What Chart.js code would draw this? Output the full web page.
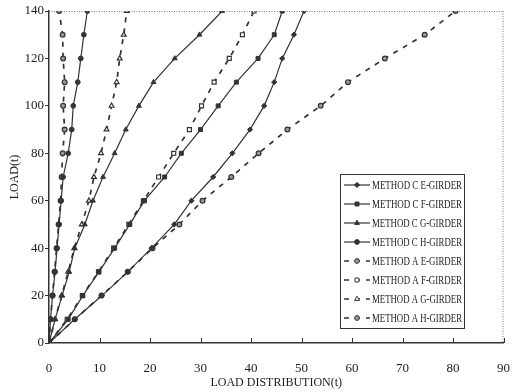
<!DOCTYPE html>
<html lang="en">
<head>
<meta charset="UTF-8">
<title>Load Distribution</title>
<script src="https://cdn.jsdelivr.net/npm/chart.js"></script>
<style>
  html, body { margin: 0; padding: 0; background: #fff; }
  #wrap { width: 520px; height: 392px; }
</style>
</head>
<body>
<div id="wrap"><canvas id="loadChart" width="520" height="392"></canvas></div>
<script>
// load steps (t) on the y axis
const loads = [0, 10, 20, 30, 40, 50, 60, 70, 80, 90, 100, 110, 120, 130, 140];

// load distribution (t) per girder
const methodC_E = [0, 5.1, 10.5, 15.6, 20.3, 24.8, 28.2, 32.5, 36.3, 39.8, 42.6, 44.6, 46.2, 48.5, 50.5];
const methodC_F = [0, 3.8, 6.7, 9.9, 13.0, 16.0, 18.9, 22.9, 26.2, 30.0, 33.5, 37.1, 41.4, 44.6, 46.2];
const methodC_G = [0, 1.2, 2.6, 4.0, 5.1, 7.1, 8.7, 10.7, 13.0, 15.2, 17.8, 20.7, 24.9, 29.8, 34.3];
const methodC_H = [0, 0.3, 0.7, 1.2, 1.6, 2.0, 2.4, 2.8, 3.8, 4.5, 4.8, 5.7, 6.3, 6.9, 7.6];
const methodA_E = [0, 5.1, 10.4, 15.6, 20.5, 25.8, 30.4, 36.1, 41.5, 47.2, 53.8, 59.2, 66.5, 74.4, 80.5];
const methodA_F = [0, 3.6, 6.6, 9.8, 12.8, 15.8, 18.7, 21.7, 24.7, 27.8, 30.2, 32.7, 35.7, 38.3, 40.6];
const methodA_G = [0, 1.2, 2.5, 3.8, 5.0, 6.5, 7.9, 8.9, 10.3, 11.4, 12.4, 13.4, 14.0, 14.8, 15.4];
const methodA_H = [0, 0.3, 0.7, 1.1, 1.5, 1.9, 2.3, 2.5, 2.7, 3.1, 2.8, 3.1, 2.8, 2.7, 2.0];

const seriesNames = [
  'METHOD C E-GIRDER', 'METHOD C F-GIRDER', 'METHOD C G-GIRDER', 'METHOD C H-GIRDER',
  'METHOD A E-GIRDER', 'METHOD A F-GIRDER', 'METHOD A G-GIRDER', 'METHOD A H-GIRDER'
];
const seriesValues = [methodC_E, methodC_F, methodC_G, methodC_H, methodA_E, methodA_F, methodA_G, methodA_H];
const markers = ['rectRot', 'rect', 'triangle', 'circle', 'circle', 'rect', 'triangle', 'circle'];

const ink = '#333';
const serif = '"Liberation Serif", "DejaVu Serif", serif';

function makeDataset(i) {
  const isA = i >= 4;
  const style = markers[i];
  let fillColor = isA ? '#fff' : ink;
  if (i === 4 || i === 7) fillColor = '#999'; // small A markers read dark in the scan
  return {
    label: seriesNames[i],
    data: seriesValues[i].map((v, k) => ({ x: v, y: loads[k] })),
    borderColor: ink,
    borderWidth: isA ? 1.7 : 1.2,
    borderDash: isA ? [5, 6] : [],
    pointStyle: style,
    pointRadius: style === 'rectRot' ? 2.6 : (style === 'circle' ? 2.4 : 2.8),
    pointBackgroundColor: fillColor,
    pointBorderColor: ink,
    pointBorderWidth: isA ? 1.2 : 1,
    fill: false,
    tension: 0
  };
}

// dotted frame on top/right + inward ticks on x axis
const framePlugin = {
  id: 'frame',
  afterDraw(chart) {
    const ctx = chart.ctx;
    const a = chart.chartArea;
    ctx.save();
    ctx.strokeStyle = '#777';
    ctx.lineWidth = 1;
    ctx.setLineDash([1, 1.5]);
    ctx.beginPath();
    ctx.moveTo(a.left, a.top + 0.5);
    ctx.lineTo(a.right, a.top + 0.5);
    ctx.moveTo(a.right - 0.5, a.top);
    ctx.lineTo(a.right - 0.5, a.bottom);
    ctx.stroke();
    ctx.setLineDash([]);
    ctx.strokeStyle = ink;
    const xs = chart.scales.x;
    ctx.beginPath();
    xs.ticks.forEach(t => {
      if (t.value === 0) return;
      const px = Math.round(xs.getPixelForValue(t.value)) + 0.5;
      ctx.moveTo(px, a.bottom);
      ctx.lineTo(px, a.bottom - 5);
    });
    ctx.stroke();
    ctx.restore();
  }
};

// boxed legend inside the plot
const boxLegend = {
  id: 'boxLegend',
  afterDraw(chart) {
    const ctx = chart.ctx;
    const left = 340, top = 174, width = 124, row = 19;
    ctx.save();
    ctx.fillStyle = '#fff';
    ctx.fillRect(left, top, width, row * 8 + 2);
    ctx.strokeStyle = ink;
    ctx.lineWidth = 1;
    ctx.strokeRect(left + 0.5, top + 0.5, width, row * 8 + 2);
    chart.data.datasets.forEach((ds, i) => {
      const y = top + 11 + i * row;
      ctx.strokeStyle = ink;
      ctx.lineWidth = ds.borderWidth;
      ctx.setLineDash(ds.borderDash);
      ctx.beginPath();
      ctx.moveTo(344, y);
      ctx.lineTo(370, y);
      ctx.stroke();
      ctx.setLineDash([]);
      ctx.fillStyle = ds.pointBackgroundColor;
      ctx.strokeStyle = ink;
      ctx.lineWidth = 1;
      Chart.helpers.drawPoint(ctx, {
        pointStyle: ds.pointStyle, radius: ds.pointRadius, rotation: 0, borderWidth: 1
      }, 357, y);
      ctx.fillStyle = '#222';
      ctx.font = '12px ' + serif;
      ctx.textBaseline = 'middle';
      ctx.fillText(ds.label, 372, y + 1, 90);
    });
    ctx.restore();
  }
};

new Chart(document.getElementById('loadChart'), {
  type: 'line',
  data: { datasets: seriesValues.map((_, i) => makeDataset(i)) },
  options: {
    responsive: false,
    animation: false,
    devicePixelRatio: 1,
    layout: { padding: { top: 11, right: 15, left: 8, bottom: 0 } },
    plugins: { legend: { display: false }, tooltip: { enabled: false } },
    scales: {
      x: {
        type: 'linear',
        min: 0, max: 90,
        afterFit(scale) { scale.height = 49; },
        border: { display: true, color: ink, width: 1.5 },
        grid: { display: false },
        ticks: { stepSize: 10, color: '#222', padding: 10, font: { family: serif, size: 13 } },
        title: {
          display: true, text: 'LOAD DISTRIBUTION(t)', color: '#222',
          font: { family: serif, size: 12 }, padding: { top: 0, bottom: 2 }
        }
      },
      y: {
        type: 'linear',
        min: 0, max: 140,
        afterFit(scale) { scale.width = 41; },
        border: { display: true, color: ink, width: 1.5 },
        grid: { display: true, drawOnChartArea: false, drawTicks: true, tickLength: 4, color: ink },
        ticks: { stepSize: 20, color: '#222', padding: 1, font: { family: serif, size: 13 } },
        title: {
          display: true, text: 'LOAD(t)', color: '#222',
          font: { family: serif, size: 12 }, padding: { top: 0, bottom: 0 }
        }
      }
    }
  },
  plugins: [framePlugin, boxLegend]
});
</script>
</body>
</html>
